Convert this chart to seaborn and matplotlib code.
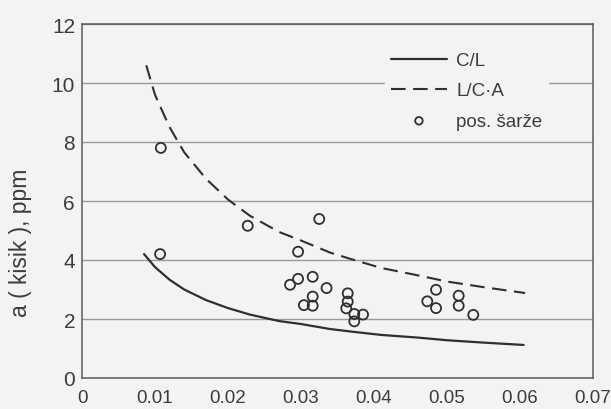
import matplotlib
matplotlib.use("Agg")
import matplotlib.pyplot as plt
import seaborn as sns
import pandas as pd

# Theoretical curves (oxygen activity vs. x)
curve_x = [0.0085, 0.010, 0.012, 0.014, 0.017, 0.020, 0.023, 0.027, 0.030,
           0.034, 0.037, 0.041, 0.046, 0.050, 0.055, 0.0605]
cl_y = [4.20, 3.76, 3.33, 3.00, 2.64, 2.37, 2.15, 1.93, 1.83,
        1.66, 1.57, 1.46, 1.37, 1.28, 1.20, 1.12]
dash_x = [0.0088, 0.010, 0.012, 0.014, 0.017, 0.020, 0.023, 0.027, 0.030,
          0.034, 0.037, 0.041, 0.046, 0.050, 0.055, 0.0607]
lca_y = [10.60, 9.60, 8.50, 7.65, 6.75, 6.05, 5.50, 4.95, 4.66,
         4.25, 4.02, 3.73, 3.48, 3.27, 3.08, 2.88]

# Measured heats
heat_x = [0.0108, 0.0107, 0.0227, 0.0325, 0.0296, 0.0285, 0.0296, 0.0316,
          0.0335, 0.0304, 0.0316, 0.0316, 0.0364, 0.0364, 0.0362, 0.0373,
          0.0373, 0.0385, 0.0473, 0.0485, 0.0485, 0.0516, 0.0516, 0.0536]
heat_y = [7.80, 4.20, 5.16, 5.39, 4.28, 3.16, 3.36, 3.43,
          3.05, 2.47, 2.76, 2.45, 2.87, 2.59, 2.36, 2.17,
          1.92, 2.15, 2.60, 2.99, 2.37, 2.79, 2.45, 2.14]

x_ticks = [0, 0.01, 0.02, 0.03, 0.04, 0.05, 0.06, 0.07]
x_labels = ["0", "0.01", "0.02", "0.03", "0.04", "0.05", "0.06", "0.07"]
y_ticks = [0, 2, 4, 6, 8, 10, 12]

labels = ["C/L", "L/C\u00b7A", "pos. \u0161ar\u017ee"]
y_title = "a ( kisik ), ppm"

BG = "#f3f3f3"
INK = "#2f2f2f"
TXT = "#3c3c3c"

sns.set_theme(style="white")
plt.rcParams["font.family"] = ["Liberation Sans", "DejaVu Sans"]
plt.rcParams["axes.unicode_minus"] = False

fig = plt.figure(figsize=(6.11, 4.10), dpi=100, facecolor=BG)
ax = fig.add_axes([82 / 611, 1 - 379 / 410, 511 / 611, 354 / 410])
ax.set_facecolor(BG)

cl_df = pd.DataFrame({"x": curve_x, "y": cl_y})
lca_df = pd.DataFrame({"x": dash_x, "y": lca_y})
heat_df = pd.DataFrame({"x": heat_x, "y": heat_y})

sns.lineplot(data=cl_df, x="x", y="y", ax=ax, color=INK, linewidth=1.6,
             label=labels[0])
sns.lineplot(data=lca_df, x="x", y="y", ax=ax, color=INK, linewidth=1.5,
             linestyle=(0, (7, 3.6)), label=labels[1])
sns.scatterplot(data=heat_df, x="x", y="y", ax=ax, marker="o", s=52,
                facecolor="none", edgecolor=INK, linewidth=1.3,
                label=labels[2])

ax.set_xlim(0, 0.07)
ax.set_ylim(0, 12)
ax.set_xticks(x_ticks)
ax.set_xticklabels(x_labels)
ax.set_yticks(y_ticks)
ax.set_xlabel("")
ax.set_ylabel(y_title, fontsize=16.5, color=TXT)
ax.yaxis.set_label_coords(-0.098, 0.385)

ax.yaxis.grid(True, color="#9a9a9a", linewidth=1.0)
ax.xaxis.grid(False)
ax.set_axisbelow(True)

for sp in ax.spines.values():
    sp.set_color("#5a5a5a")
    sp.set_linewidth(1.1)

ax.tick_params(axis="x", direction="in", length=6.5, width=1.1, color="#5a5a5a",
               labelsize=13.5, labelcolor=TXT, pad=8)
ax.tick_params(axis="y", direction="out", length=3, width=1.0, color="#9a9a9a",
               labelsize=15, labelcolor=TXT, pad=2)
# The outer ticks at both ends sit on the frame; hide their marks
xt = ax.xaxis.get_major_ticks()
xt[0].tick1line.set_visible(False)
xt[-1].tick1line.set_visible(False)

leg = ax.legend(loc="upper left", bbox_to_anchor=(0.575, 0.963), frameon=True,
                facecolor=BG, edgecolor=BG, framealpha=1.0, fontsize=13.5,
                handlelength=3.0, handletextpad=0.5, labelspacing=0.7,
                borderpad=0.3, markerscale=0.75)
for t in leg.get_texts():
    t.set_color(TXT)

fig.savefig("out.png", dpi=100, facecolor=BG)
